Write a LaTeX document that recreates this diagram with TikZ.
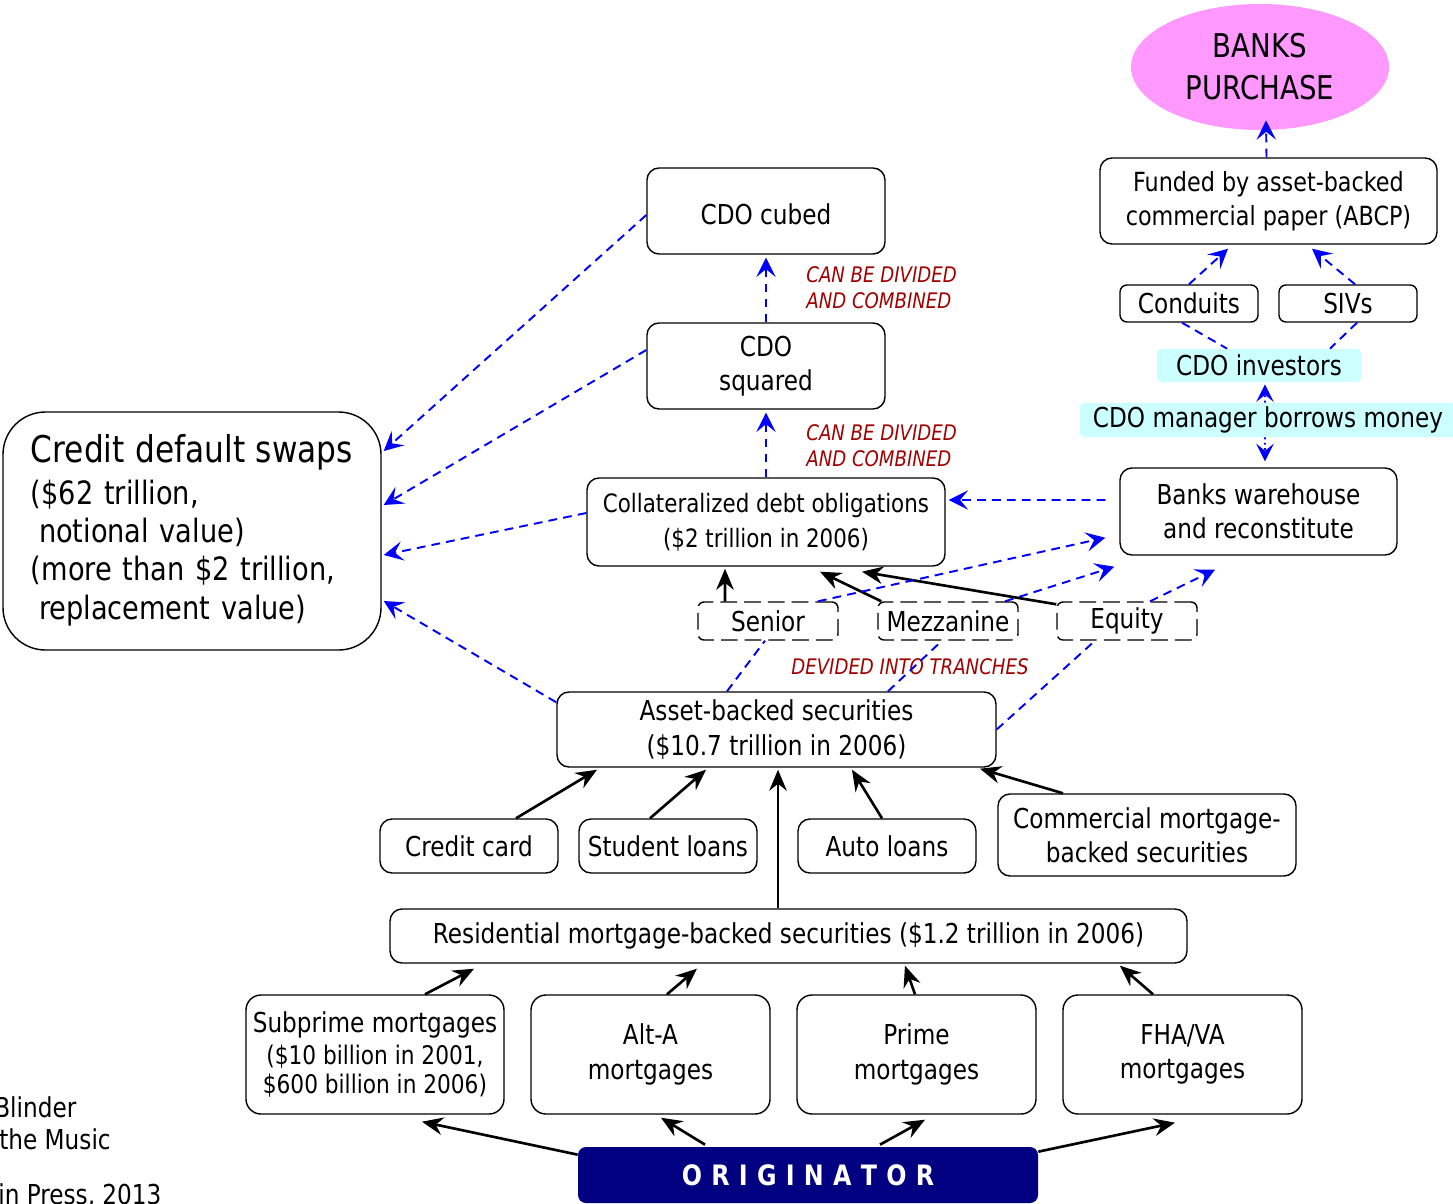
\documentclass[tikz,border=0pt]{standalone}
\usepackage{fontspec}
\setmainfont{DejaVu Sans Condensed}[FakeStretch=0.94]
\usetikzlibrary{arrows.meta,shapes.geometric}
\definecolor{pinkfill}{RGB}{255,153,255}
\definecolor{navyfill}{RGB}{0,0,128}
\definecolor{darkred}{RGB}{160,0,0}
\definecolor{cyanfill}{RGB}{204,255,255}
\newcommand{\fsz}[2]{\fontsize{#1}{#2}\selectfont}
\begin{document}
\begin{tikzpicture}[x=0.02cm,y=-0.02cm,
 box/.style={draw, line width=0.8pt, rounded corners=0.24cm, align=center, inner sep=2pt, fill=white, font=\fsz{15.6}{19.5}},
 wh/.style 2 args={minimum width=#1*0.02cm, minimum height=#2*0.02cm},
 tranche/.style={box, rounded corners=0.12cm, dash pattern=on 9.5pt off 4pt},
 barrow/.style={line width=1.5pt, -{Stealth[length=12pt,width=10pt,inset=4pt]}},
 bline/.style={blue, line width=1.1pt, dash pattern=on 5pt off 3.5pt},
 barrowb/.style={bline, -{Stealth[length=11pt,width=11pt,inset=4.5pt]}},
 dotarrow/.style={blue, line width=1.1pt, dotted, -{Stealth[length=10pt,width=10pt,inset=4pt]}},
 lbl/.style={text=darkred, font=\fsz{12.2}{14.7}\itshape, align=left, inner sep=0pt},
 cyanbox/.style={fill=cyanfill, rounded corners=0.08cm, font=\fsz{15.6}{17}, inner sep=0pt},
 refnote/.style={font=\fsz{15.6}{16}, anchor=west, inner sep=0pt}
]
\useasboundingbox (0,0) rectangle (1453,1203);

% nodes
\node[ellipse, fill=pinkfill, wh={258}{126}, align=center, font=\fsz{18.6}{23.8}] (banks) at (1260,67) {BANKS\\PURCHASE};
\node[box, wh={337}{86}, font=\fsz{15}{19.3}] (funded) at (1268.5,201) {Funded by asset-backed\\commercial paper (ABCP)};
\node[box, wh={138}{37}, rounded corners=0.14cm] (conduits) at (1189,303.5) {Conduits};
\node[box, wh={138}{37}, rounded corners=0.14cm] (sivs) at (1348,303.5) {SIVs};
\node[cyanbox, wh={204}{33}] (inv) at (1259,365.5) {CDO investors};
\node[cyanbox, wh={376}{34}] (mgr) at (1268,420) {CDO manager borrows money};
\node[box, wh={277}{87}] (ware) at (1258.5,511.5) {Banks warehouse\\and reconstitute};
\node[box, wh={238}{86}, text height=18.7pt, text depth=3.5pt] (cubed) at (766,211) {CDO cubed};
\node[box, wh={238}{86}] (squared) at (766,366) {CDO\\squared};
\node[box, wh={358}{88}, font=\fsz{14.4}{20}] (cdo) at (766,522) {Collateralized debt obligations\\(\$2 trillion in 2006)};
\node[box, wh={378}{238}, rounded corners=0.85cm, align=left, font=\fsz{18.3}{21.8}, text width=322*0.02cm] (cds) at (192,531)
 {{\fsz{21}{24}Credit default swaps}\\[2pt](\$62 trillion,\\\hspace*{0.25em}notional value)\\(more than \$2 trillion,\\\hspace*{0.25em}replacement value)\\[-17pt]\mbox{}};
\node[tranche, wh={140}{38}] (senior) at (768,621) {Senior};
\node[tranche, wh={140}{38}] (mezz) at (948,621) {Mezzanine};
\node[tranche, wh={140}{38}] (equity) at (1127,621) {Equity};
\node[box, wh={439}{75}] (abs) at (776.5,729.5) {Asset-backed securities\\(\$10.7 trillion in 2006)};
\node[box, wh={178}{54}] (ccard) at (469,846) {Credit card};
\node[box, wh={178}{54}] (student) at (668,846) {Student loans};
\node[box, wh={178}{54}] (auto) at (887,846) {Auto loans};
\node[box, wh={298}{82}] (cmbs) at (1147,835) {Commercial mortgage-\\backed securities};
\node[box, wh={797}{54}] (rmbs) at (788.5,936) {Residential mortgage-backed securities (\$1.2 trillion in 2006)};
\node[box, wh={258}{119}, rounded corners=0.3cm] (subprime) at (375,1054.5) {Subprime mortgages\\[-1pt]{\fsz{14.6}{16.4}(\$10 billion in 2001,}\\[-2.8pt]{\fsz{14.6}{16.4}\$600 billion in 2006)}};
\node[box, wh={239}{119}, rounded corners=0.3cm] (alta) at (650.5,1054.5) {Alt-A\\mortgages};
\node[box, wh={239}{119}, rounded corners=0.3cm] (prime) at (916.5,1054.5) {Prime\\mortgages};
\node[box, wh={239}{119}, rounded corners=0.3cm] (fha) at (1182.5,1054.5) {FHA/VA\\mortgages};
\node[fill=navyfill, rounded corners=0.16cm, wh={460}{56}, text=white, font=\fsz{16}{18}\bfseries] (orig) at (808,1175)
 {O\kern.33em R\kern.33em I\kern.33em G\kern.33em I\kern.33em N\kern.33em A\kern.33em T\kern.33em O\kern.33em R};

% labels
\node[lbl, anchor=west] (lbla) at (806,288) {CAN BE DIVIDED\\AND COMBINED};
\node[lbl, anchor=west] (lblb) at (806,445.5) {CAN BE DIVIDED\\AND COMBINED};
\node[lbl] (lblc) at (910,667) {DEVIDED INTO TRANCHES};
\node[refnote] (r1) at (-6,1107) {Blinder};
\node[refnote] (r2) at (-1,1139) {the Music};
\node[refnote] (r3) at (-2,1196) {in Press, 2013};

% black arrows
\draw[barrow] ([yshift=-0.16cm]orig.north west) -- ([xshift=0.94cm,yshift=-0.14cm]subprime.south);
\draw[barrow] ([xshift=-2.06cm,yshift=0.04cm]orig.north) -- ([xshift=0.21cm,yshift=-0.06cm]alta.south);
\draw[barrow] ([xshift=1.44cm,yshift=0.04cm]orig.north) -- ([xshift=0.17cm,yshift=-0.1cm]prime.south);
\draw[barrow] ([yshift=-0.1cm]orig.north east) -- ([xshift=-0.15cm,yshift=-0.16cm]fha.south);
\draw[barrow] ([xshift=1.0cm]subprime.north) -- ([xshift=-6.29cm,yshift=-0.1cm]rmbs.south);
\draw[barrow] ([xshift=0.33cm]alta.north) -- ([xshift=-1.83cm,yshift=-0.1cm]rmbs.south);
\draw[barrow] ([xshift=-0.03cm]prime.north) -- ([xshift=2.33cm,yshift=-0.04cm]rmbs.south);
\draw[barrow] ([xshift=-0.59cm]fha.north) -- ([xshift=6.63cm,yshift=-0.04cm]rmbs.south);
\draw[barrow, line width=1pt] ([xshift=0.03cm]rmbs.north -| abs.south) -- ([xshift=0.03cm,yshift=-0.04cm]abs.south);
\draw[barrow] ([xshift=0.94cm]ccard.north) -- ([xshift=-3.59cm,yshift=-0.04cm]abs.south);
\draw[barrow] ([xshift=-0.36cm]student.north) -- ([xshift=-1.41cm,yshift=-0.04cm]abs.south);
\draw[barrow] ([xshift=-0.1cm]auto.north) -- ([xshift=1.51cm,yshift=-0.04cm]abs.south);
\draw[barrow] ([xshift=-1.68cm]cmbs.north) -- ([xshift=4.07cm,yshift=-0.02cm]abs.south);
\draw[barrow] ([xshift=-0.86cm]senior.north) -- ([xshift=-0.82cm,yshift=-0.04cm]cdo.south);
\draw[barrow] ([xshift=0.08cm]mezz.north west) -- ([xshift=1.08cm,yshift=-0.1cm]cdo.south);
\draw[barrow] ([yshift=-0.06cm]equity.north west) -- ([xshift=1.92cm,yshift=-0.1cm]cdo.south);

% blue dashed arrows
\draw[barrowb] ([yshift=-0.22cm]abs.north west) -- ([xshift=0.04cm,yshift=-1.4cm]cds.east);
\draw[barrowb] ([yshift=0.18cm]cdo.west) -- ([xshift=0.04cm,yshift=-0.48cm]cds.east);
\draw[barrowb] ([yshift=0.32cm]squared.west) -- ([xshift=0.04cm,yshift=0.52cm]cds.east);
\draw[barrowb] ([yshift=-0.08cm]cubed.west) -- ([xshift=0.04cm,yshift=1.6cm]cds.east);
\draw[barrowb] (cdo.north) -- ([yshift=-0.06cm]squared.south);
\draw[barrowb] (squared.north) -- ([yshift=-0.06cm]cubed.south);
\draw[barrowb] ([xshift=-0.28cm,yshift=0.23cm]ware.west) -- ([xshift=0.06cm,yshift=0.44cm]cdo.east);
\draw[bline] ([xshift=-0.99cm]abs.north) -- ([xshift=-0.06cm]senior.south);
\draw[barrowb] ([xshift=1.0cm]senior.north) -- ([xshift=-0.28cm,yshift=0.36cm]ware.south west);
\draw[bline] ([xshift=2.23cm]abs.north) -- ([xshift=-0.12cm]mezz.south);
\draw[barrowb] ([xshift=1.14cm]mezz.north) -- ([xshift=-0.1cm,yshift=-0.22cm]ware.south west);
\draw[bline] (abs.east) -- ([xshift=-0.64cm]equity.south);
\draw[barrowb] ([xshift=0.46cm]equity.north) -- ([xshift=-0.87cm,yshift=-0.28cm]ware.south);
\draw[barrowb] (conduits.north) -- ([xshift=-0.81cm,yshift=-0.08cm]funded.south);
\draw[barrowb] ([xshift=0.14cm]sivs.north) -- ([xshift=0.87cm,yshift=-0.08cm]funded.south);
\draw[bline] ([xshift=-0.14cm]conduits.south) -- ([xshift=-0.64cm]inv.north);
\draw[bline] ([xshift=0.18cm]sivs.south) -- ([xshift=1.42cm]inv.north);
\draw[dotarrow] ([xshift=-0.06cm]mgr.north) -- ([xshift=0.12cm,yshift=-0.04cm]inv.south);
\draw[dotarrow] ([xshift=-0.06cm]mgr.south) -- ([xshift=0.13cm,yshift=0.12cm]ware.north);
\draw[barrowb] ([xshift=-0.04cm]funded.north) -- ([xshift=0.12cm,yshift=0.2cm]banks.south);
\end{tikzpicture}
\end{document}
